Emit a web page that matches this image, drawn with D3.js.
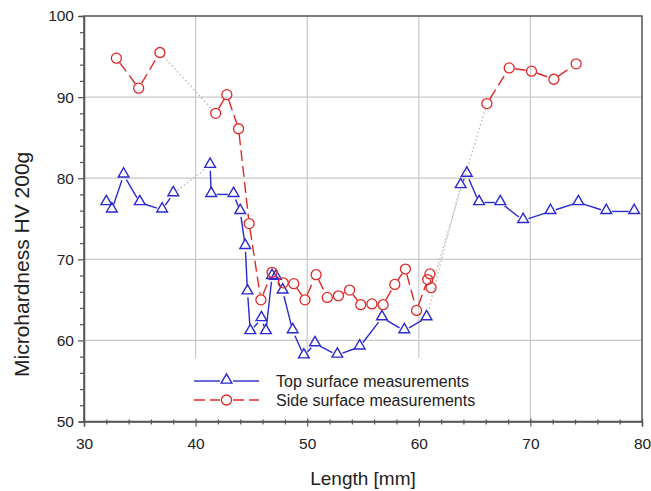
<!DOCTYPE html>
<html>
<head>
<meta charset="utf-8">
<script src="https://cdn.jsdelivr.net/npm/d3@7"></script>
<style>
  html, body { margin: 0; padding: 0; background: #fff; overflow: hidden; }
  svg { display: block; }
  text { font-family: "Liberation Sans", Arial, sans-serif; }
</style>
</head>
<body>
<svg id="chart" width="651" height="491"></svg>
<script>
// Top surface measurements (blue, triangles)
const topX = [32.0, 32.5, 33.55, 35.0, 37.0, 38.0, 41.3, 41.4, 43.4, 44.0, 44.45, 44.65, 44.9, 45.9, 46.3, 46.85, 47.2, 47.8, 48.7, 49.7, 50.7, 52.7, 54.7, 56.7, 58.7, 60.7, 63.75, 64.3, 65.4, 67.3, 69.35, 71.8, 74.3, 76.8, 79.3];
const topY = [77.0, 76.1, 80.4, 77.0, 76.1, 78.1, 81.6, 78.0, 78.0, 75.9, 71.6, 66.0, 61.1, 62.7, 61.1, 67.9, 67.8, 66.1, 61.2, 58.1, 59.6, 58.2, 59.2, 62.8, 61.2, 62.8, 79.1, 80.5, 77.0, 77.0, 74.8, 75.9, 77.0, 75.9, 75.9];
const topGapAfter = [5, 25];

// Side surface measurements (red, circles)
const sideX = [32.9, 34.9, 36.8, 41.8, 42.8, 43.85, 44.8, 45.85, 46.85, 47.85, 48.8, 49.8, 50.8, 51.8, 52.8, 53.8, 54.8, 55.8, 56.8, 57.85, 58.8, 59.8, 60.8, 61.0, 61.1, 66.1, 68.1, 70.1, 72.1, 74.1];
const sideY = [94.8, 91.1, 95.5, 88.0, 90.3, 86.1, 74.4, 65.0, 68.4, 67.1, 67.0, 65.0, 68.1, 65.3, 65.5, 66.2, 64.4, 64.5, 64.4, 66.9, 68.8, 63.7, 67.5, 68.2, 66.5, 89.2, 93.6, 93.2, 92.2, 94.1];
const sideGapAfter = [2, 24];

const xTicks = [30, 40, 50, 60, 70, 80];
const yTicks = [50, 60, 70, 80, 90, 100];
const legendLabels = ['Top surface measurements', 'Side surface measurements'];

const blue = '#2a2ad0';
const red = '#e02828';

const svg = d3.select('#chart');
const margin = { top: 16, left: 84 };
const innerWidth = 558, innerHeight = 405.5;

const x = d3.scaleLinear().domain([30, 80]).range([0, innerWidth]);
const y = d3.scaleLinear().domain([50, 100]).range([innerHeight, 0]);

const g = svg.append('g').attr('transform', `translate(${margin.left},${margin.top})`);

// grid
g.selectAll('.gx').data(xTicks.slice(1, -1)).enter().append('line')
  .attr('x1', d => x(d)).attr('x2', d => x(d)).attr('y1', 0).attr('y2', innerHeight)
  .attr('stroke', '#c8c8c8').attr('stroke-width', 1.2);
g.selectAll('.gy').data(yTicks.slice(1, -1)).enter().append('line')
  .attr('y1', d => y(d)).attr('y2', d => y(d)).attr('x1', 0).attr('x2', innerWidth)
  .attr('stroke', '#c8c8c8').attr('stroke-width', 1.2);

// legend background hides the grid below it
g.append('rect').attr('x', 100).attr('y', 342).attr('width', 295).attr('height', innerHeight - 343)
  .attr('fill', '#fff');

// frame
g.append('rect').attr('width', innerWidth).attr('height', innerHeight)
  .attr('fill', 'none').attr('stroke', '#555').attr('stroke-width', 1.5);

// axes (minor ticks every 2, labels on majors only)
const xAxis = g.append('g').attr('transform', `translate(0,${innerHeight})`)
  .call(d3.axisBottom(x).tickValues(d3.range(30, 81, 2)).tickSize(5)
    .tickFormat(d => xTicks.includes(d) ? d : ''));
const yAxis = g.append('g')
  .call(d3.axisLeft(y).tickValues(d3.range(50, 101, 2)).tickSize(5)
    .tickFormat(d => yTicks.includes(d) ? d : ''));
[xAxis, yAxis].forEach(a => {
  a.select('.domain').attr('stroke', '#555').attr('stroke-width', 1.5);
  a.selectAll('line').attr('stroke', '#555').attr('stroke-width', 1.2);
  a.selectAll('.tick text').filter(function () { return this.textContent === ''; }).remove();
  a.selectAll('text').attr('font-size', 15.5).attr('fill', '#222')
    .style('font-family', '"Liberation Sans", Arial, sans-serif');
});
xAxis.selectAll('.tick line').attr('y1', d => xTicks.includes(d) ? -3 : -2).attr('y2', d => xTicks.includes(d) ? 5 : 3);
xAxis.selectAll('text').attr('y', 16);
yAxis.selectAll('.tick line').attr('x2', d => yTicks.includes(d) ? -6 : -4);
yAxis.selectAll('text').attr('x', -10);

// titles
svg.append('text').attr('x', margin.left + innerWidth / 2).attr('y', 485)
  .attr('text-anchor', 'middle').attr('font-size', 19).attr('fill', '#222').text('Length [mm]');
svg.append('text').attr('transform', 'translate(29,377) rotate(-90)')
  .attr('text-anchor', 'start').attr('font-size', 21).attr('fill', '#222').text('Microhardness HV 200g');

// lines with small gaps at the markers
const r = 5.5;
function drawSeries(xs, ys, gaps, color, dash) {
  const pts = xs.map((d, i) => [x(d), y(ys[i])]);
  for (let i = 0; i < pts.length - 1; i++) {
    const [x0, y0] = pts[i], [x1, y1] = pts[i + 1];
    const len = Math.hypot(x1 - x0, y1 - y0);
    if (len <= 2 * r + 0.5) continue;
    const ux = (x1 - x0) / len, uy = (y1 - y0) / len;
    const isGap = gaps.includes(i);
    g.append('line')
      .attr('x1', x0 + ux * r).attr('y1', y0 + uy * r)
      .attr('x2', x1 - ux * r).attr('y2', y1 - uy * r)
      .attr('stroke', isGap ? '#b8b8b8' : color)
      .attr('stroke-width', isGap ? 1.3 : 1.4)
      .attr('stroke-dasharray', isGap ? '1.5,2.5' : dash);
  }
}
drawSeries(topX, topY, topGapAfter, blue, null);
drawSeries(sideX, sideY, sideGapAfter, red, '11,5');

const tri = d3.symbol().type(d3.symbolTriangle).size(50);
g.selectAll('.tp').data(topX).enter().append('path')
  .attr('d', tri).attr('transform', (d, i) => `translate(${x(d)},${y(topY[i]) - 1})`)
  .attr('fill', 'none').attr('stroke', blue).attr('stroke-width', 1.4);
g.selectAll('.sp').data(sideX).enter().append('circle')
  .attr('cx', d => x(d)).attr('cy', (d, i) => y(sideY[i])).attr('r', 5)
  .attr('fill', 'none').attr('stroke', red).attr('stroke-width', 1.3);

// legend
const legend = svg.append('g');
const lg = [
  { label: legendLabels[0], color: blue, dash: null, y: 381 },
  { label: legendLabels[1], color: red, dash: '11,5', y: 400 }
];
lg.forEach((d, i) => {
  legend.append('line').attr('x1', 194).attr('x2', 220).attr('y1', d.y).attr('y2', d.y)
    .attr('stroke', d.color).attr('stroke-width', 1.4).attr('stroke-dasharray', d.dash);
  legend.append('line').attr('x1', 233).attr('x2', 259).attr('y1', d.y).attr('y2', d.y)
    .attr('stroke', d.color).attr('stroke-width', 1.4).attr('stroke-dasharray', d.dash);
  if (i === 0) {
    legend.append('path').attr('d', tri).attr('transform', `translate(226.5,${d.y - 1})`)
      .attr('fill', 'none').attr('stroke', d.color).attr('stroke-width', 1.4);
  } else {
    legend.append('circle').attr('cx', 226.5).attr('cy', d.y).attr('r', 5)
      .attr('fill', 'none').attr('stroke', d.color).attr('stroke-width', 1.3);
  }
  legend.append('text').attr('x', 276).attr('y', d.y + 6).attr('font-size', 16)
    .attr('fill', '#222').text(d.label);
});
</script>
</body>
</html>
